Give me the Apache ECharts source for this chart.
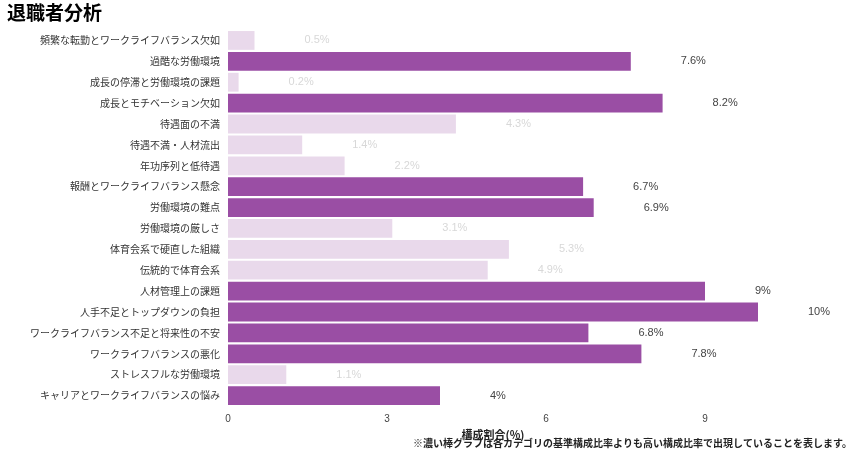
<!DOCTYPE html><html><head><meta charset="utf-8"><script src="https://cdn.jsdelivr.net/npm/echarts@6/dist/echarts.min.js"></script></head><body style="margin:0"><div id="c" style="width:860px;height:458px"></div><script>
const categories=["頻繁な転勤とワークライフバランス欠如","過酷な労働環境","成長の停滞と労働環境の課題","成長とモチベーション欠如","待遇面の不満","待遇不満・人材流出","年功序列と低待遇","報酬とワークライフバランス懸念","労働環境の難点","労働環境の厳しさ","体育会系で硬直した組織","伝統的で体育会系","人材管理上の課題","人手不足とトップダウンの負担","ワークライフバランス不足と将来性の不安","ワークライフバランスの悪化","ストレスフルな労働環境","キャリアとワークライフバランスの悩み"];
const values=[0.5,7.6,0.2,8.2,4.3,1.4,2.2,6.7,6.9,3.1,5.3,4.9,9,10,6.8,7.8,1.1,4];
const high=[0,1,0,1,0,0,0,1,1,0,0,0,1,1,1,1,0,1];
const xTicks=[0,3,6,9];
const F='"Noto Sans CJK JP",sans-serif';
const data=values.map((v,i)=>({value:v,itemStyle:{color:high[i]?'#9a4ea4':'#e9d9eb'},label:{color:high[i]?'#444':'#d8d8d8'}}));
const ch=echarts.init(document.getElementById('c'));
ch.setOption({
title:{text:'退職者分析',left:2,top:-2,textStyle:{fontFamily:F,fontSize:19,fontWeight:'bold',color:'#000'}},
graphic:[{type:'text',right:8,top:438,style:{text:'※濃い棒グラフは各カテゴリの基準構成比率よりも高い構成比率で出現していることを表します。',fontFamily:F,fontSize:10,fontWeight:'bold',fill:'#222'}}],
grid:{left:228,right:102,top:30,bottom:52},
xAxis:{type:'value',min:0,max:10,interval:3,name:'構成割合(%)',nameLocation:'middle',nameGap:20,nameTextStyle:{fontFamily:F,fontSize:11,fontWeight:'bold',color:'#222'},
axisLabel:{fontSize:10,color:'#444',formatter:v=>xTicks.includes(v)?v:''},splitLine:{show:false},axisLine:{show:false},axisTick:{show:false}},
yAxis:{type:'category',data:categories,inverse:true,axisLine:{show:false},axisTick:{show:false},axisLabel:{fontFamily:F,fontSize:10,color:'#333',margin:8}},
series:[{type:'bar',data:data,barCategoryGap:'10%',label:{show:true,position:'right',distance:50,fontSize:11,formatter:p=>p.value+'%'}}]
});
</script></body></html>
